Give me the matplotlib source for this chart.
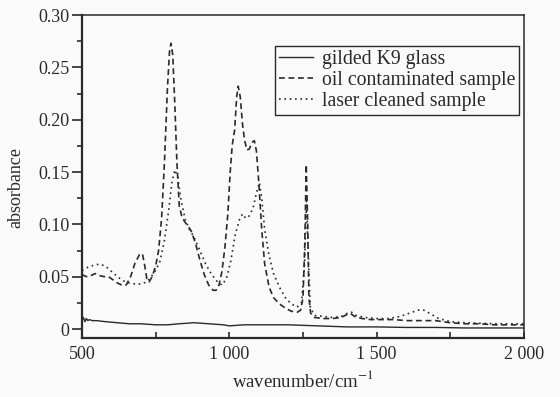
import numpy as np
import matplotlib
matplotlib.use('Agg')
import matplotlib.pyplot as plt
from matplotlib.ticker import MultipleLocator, FuncFormatter

plt.rcParams['font.family'] = ['Liberation Serif', 'DejaVu Serif']
plt.rcParams['mathtext.fontset'] = 'stix'

# gilded K9 glass
glass_x = [500, 505, 510, 515, 520, 525, 535, 550, 580, 620, 660, 700, 750, 790,
           830, 880, 930, 980, 1000, 1050, 1100, 1200, 1300, 1400, 1500, 1600,
           1700, 1800, 2000]
glass_y = [0.008, 0.011, 0.007, 0.010, 0.008, 0.009, 0.008, 0.008, 0.007, 0.006,
           0.005, 0.005, 0.004, 0.004, 0.005, 0.006, 0.005, 0.004, 0.003, 0.004,
           0.004, 0.004, 0.003, 0.002, 0.002, 0.0015, 0.0015, 0.001, 0.001]

# oil contaminated sample
oil_x = [500, 515, 530, 545, 560, 575, 590, 605, 620, 635, 650, 665, 680, 695, 705,
         712, 720, 728, 738, 750, 760, 770, 780, 790, 797, 802, 808, 815, 822, 830,
         840, 855, 870, 885, 900, 915, 930, 945, 955, 965, 975, 985, 995, 1003, 1010,
         1018, 1025, 1030, 1037, 1045, 1052, 1060, 1068, 1076, 1085, 1092, 1100,
         1110, 1120, 1135, 1150, 1170, 1190, 1210, 1230, 1242, 1250, 1256, 1261,
         1266, 1270, 1276, 1290, 1320, 1350, 1380, 1400, 1410, 1425, 1450, 1480,
         1520, 1560, 1600, 1650, 1700, 1750, 1800, 1850, 1900, 1950, 2000]
oil_y = [0.052, 0.050, 0.051, 0.053, 0.051, 0.050, 0.050, 0.047, 0.044, 0.042, 0.042,
         0.050, 0.063, 0.071, 0.072, 0.062, 0.048, 0.045, 0.050, 0.060, 0.075, 0.105,
         0.160, 0.230, 0.265, 0.273, 0.262, 0.215, 0.160, 0.118, 0.106, 0.100, 0.094,
         0.082, 0.066, 0.052, 0.042, 0.037, 0.037, 0.042, 0.055, 0.078, 0.110, 0.150,
         0.176, 0.190, 0.222, 0.232, 0.222, 0.195, 0.180, 0.171, 0.172, 0.178, 0.180,
         0.170, 0.140, 0.095, 0.062, 0.040, 0.030, 0.024, 0.020, 0.017, 0.016, 0.018,
         0.030, 0.080, 0.157, 0.100, 0.030, 0.015, 0.011, 0.010, 0.010, 0.011, 0.014,
         0.015, 0.012, 0.010, 0.009, 0.009, 0.009, 0.008, 0.008, 0.008, 0.006, 0.005,
         0.005, 0.004, 0.004, 0.004]

# laser cleaned sample
laser_x = [500, 520, 540, 560, 580, 600, 620, 640, 660, 680, 700, 720, 735, 750, 765,
           780, 795, 805, 815, 825, 835, 850, 865, 880, 900, 920, 940, 960, 975, 990,
           1005, 1020, 1035, 1045, 1055, 1065, 1080, 1092, 1102, 1110, 1120, 1135,
           1150, 1170, 1190, 1210, 1230, 1245, 1255, 1262, 1268, 1275, 1290, 1320,
           1350, 1380, 1400, 1415, 1430, 1460, 1500, 1540, 1580, 1610, 1640, 1660,
           1680, 1710, 1750, 1800, 1900, 2000]
laser_y = [0.056, 0.059, 0.061, 0.062, 0.060, 0.055, 0.050, 0.046, 0.044, 0.043, 0.043,
           0.045, 0.050, 0.056, 0.065, 0.085, 0.115, 0.140, 0.152, 0.145, 0.125, 0.105,
           0.095, 0.088, 0.075, 0.062, 0.052, 0.045, 0.042, 0.048, 0.065, 0.090, 0.105,
           0.110, 0.106, 0.107, 0.115, 0.130, 0.140, 0.125, 0.095, 0.070, 0.053, 0.040,
           0.030, 0.024, 0.021, 0.025, 0.060, 0.125, 0.070, 0.020, 0.013, 0.012, 0.011,
           0.012, 0.015, 0.016, 0.013, 0.011, 0.010, 0.010, 0.012, 0.015, 0.018, 0.018,
           0.015, 0.010, 0.007, 0.006, 0.005, 0.005]

ink = '#2a2a2a'
bg = '#fafafa'

fig = plt.figure(figsize=(5.6, 3.97), dpi=100, facecolor=bg)
ax = fig.add_axes([0.1464, 0.1486, 0.7893, 0.8136], facecolor=bg)

ax.plot(glass_x, glass_y, color=ink, lw=1.0, label='gilded K9 glass')
ax.plot(oil_x, oil_y, color=ink, lw=1.2, linestyle=(0, (3.5, 2.2)),
        label='oil contaminated sample')
ax.plot(laser_x, laser_y, color=ink, lw=1.2, linestyle=(0, (1, 2.2)),
        label='laser cleaned sample')

ax.set_xlim(500, 2000)
ax.set_ylim(-0.0086, 0.30)

ax.xaxis.set_major_locator(MultipleLocator(500))
ax.xaxis.set_minor_locator(MultipleLocator(250))
ax.yaxis.set_major_locator(MultipleLocator(0.05))
ax.yaxis.set_minor_locator(MultipleLocator(0.025))

ax.xaxis.set_major_formatter(FuncFormatter(
    lambda v, p: f'{int(v):,}'.replace(',', ' ')))
ax.yaxis.set_major_formatter(FuncFormatter(
    lambda v, p: '0' if abs(v) < 1e-9 else f'{v:.2f}'))

ax.tick_params(axis='x', which='both', direction='in', length=4, width=1.2,
               colors=ink, labelsize=13, pad=6)
ax.tick_params(axis='y', which='major', direction='out', length=7, width=1.2,
               colors=ink, labelsize=13, pad=2)
ax.tick_params(axis='y', which='minor', direction='out', length=3.5, width=1.2,
               colors=ink)

for side in ['left', 'bottom']:
    ax.spines[side].set_linewidth(1.6)
for side in ['top', 'right']:
    ax.spines[side].set_linewidth(1.1)
for s in ax.spines.values():
    s.set_color(ink)

ax.set_xlabel('wavenumber/cm$^{-1}$', fontsize=13.5, color=ink, labelpad=5)
ax.set_ylabel('absorbance', fontsize=13, color=ink)
ax.yaxis.set_label_coords(-0.13, 0.465)

leg = ax.legend(loc='upper right', bbox_to_anchor=(0.9894, 0.905), fontsize=14.2,
                frameon=True, fancybox=False, edgecolor=ink, framealpha=1,
                facecolor=bg, handlelength=1.75, handletextpad=0.45,
                borderpad=0.2, labelspacing=0.12, borderaxespad=0)
leg.get_frame().set_linewidth(1.0)
for t in leg.get_texts():
    t.set_color(ink)

fig.savefig('out.png', dpi=100, facecolor=bg)
